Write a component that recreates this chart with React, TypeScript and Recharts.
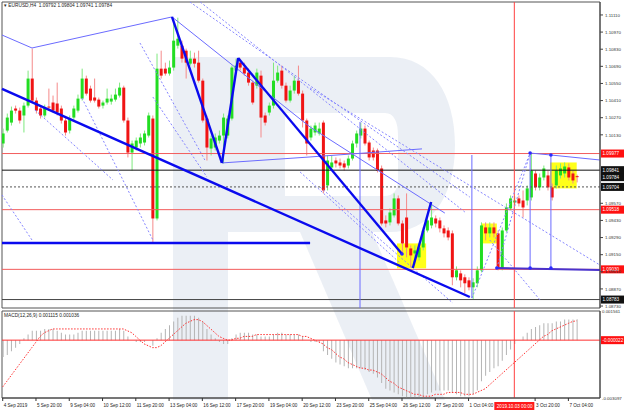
import React from "react";
import {
  Bar,
  ComposedChart,
  Line,
  ReferenceArea,
  ReferenceDot,
  ReferenceLine,
  XAxis,
  YAxis,
} from "recharts";

const FONT = "'Liberation Sans', Arial, sans-serif";
const X_DOMAIN: [number, number] = [-0.17, 143.6];
const PRICE_DOMAIN: [number, number] = [1.08714, 1.11216];
const MACD_DOMAIN: [number, number] = [-0.003097, 0.001561];

// EURUSD H4, 4 Sep 12:00 .. 7 Oct 12:00
const opens = [
  1.10059, 1.10165, 1.1023, 1.10345, 1.10328, 1.10288, 1.10369, 1.1059, 1.1041, 1.10345,
  1.10288, 1.10361, 1.10394, 1.10386, 1.10345, 1.10247, 1.10165, 1.10271, 1.10328, 1.10426,
  1.1059, 1.10508, 1.10435, 1.10418, 1.10369, 1.10394, 1.10402, 1.10418, 1.10451, 1.10516,
  1.10247, 1.09985, 1.10026, 1.10059, 1.10067, 1.10124, 1.10263, 1.09446, 1.10671, 1.10671,
  1.10631, 1.1068, 1.10859, 1.10859, 1.10818, 1.10712, 1.10753, 1.1072, 1.10573, 1.10263,
  1.10018, 1.10026, 1.10083, 1.10124, 1.10124, 1.10263, 1.10655, 1.1072, 1.1068, 1.10639,
  1.10557, 1.10532, 1.10614, 1.10288, 1.10312, 1.10369, 1.10573, 1.10655, 1.10532, 1.1041,
  1.10492, 1.10573, 1.10467, 1.10247, 1.10108, 1.10149, 1.10141, 1.1023, 1.09716, 1.09863,
  1.0992, 1.09904, 1.09896, 1.09879, 1.09936, 1.10059, 1.10124, 1.10181, 1.10067, 1.10002,
  1.10002, 1.09855, 1.0943, 1.09414, 1.09471, 1.0961, 1.09405, 1.09454, 1.09201, 1.0916,
  1.09128, 1.09209, 1.09348, 1.09389, 1.09446, 1.0943, 1.09365, 1.09348, 1.09324, 1.08965,
  1.08997, 1.08965, 1.0894, 1.08883, 1.08916, 1.09022, 1.09373, 1.09324, 1.09373, 1.09324,
  1.09038, 1.09348, 1.09528, 1.09577, 1.0961, 1.09593, 1.09593, 1.09618, 1.09814, 1.097,
  1.09781, 1.09798, 1.097, 1.09716, 1.09798, 1.09814, 1.09863, 1.09814, 1.09792,
];
const highs = [
  1.10181, 1.10304, 1.10361, 1.10369, 1.10353, 1.10394, 1.10655, 1.10835, 1.10435, 1.10369,
  1.10377, 1.10508, 1.10451, 1.10557, 1.10369, 1.10271, 1.10288, 1.10369, 1.10459, 1.10671,
  1.10614, 1.10532, 1.1059, 1.10435, 1.1041, 1.10508, 1.10459, 1.10508, 1.10557, 1.10532,
  1.10271, 1.10083, 1.10108, 1.10141, 1.10165, 1.10312, 1.10288, 1.10794, 1.10818, 1.1072,
  1.10737, 1.11063, 1.11088, 1.109, 1.10835, 1.10818, 1.10802, 1.10818, 1.1059, 1.10288,
  1.10124, 1.10141, 1.10165, 1.10304, 1.10288, 1.10696, 1.10753, 1.10753, 1.1072, 1.10671,
  1.10573, 1.10671, 1.10655, 1.10312, 1.10394, 1.1072, 1.10696, 1.10696, 1.10557, 1.10532,
  1.10614, 1.10696, 1.10492, 1.10263, 1.10206, 1.1023, 1.1023, 1.10247, 1.09961, 1.09961,
  1.09945, 1.09936, 1.0992, 1.09961, 1.10083, 1.10165, 1.1023, 1.10206, 1.10083, 1.10026,
  1.10018, 1.09879, 1.09471, 1.09528, 1.09651, 1.09634, 1.0943, 1.09651, 1.09226, 1.09226,
  1.09242, 1.09373, 1.09471, 1.09577, 1.09471, 1.09454, 1.09389, 1.09373, 1.09348, 1.09054,
  1.09022, 1.08989, 1.08965, 1.08957, 1.09054, 1.09414, 1.09414, 1.09414, 1.09414, 1.09348,
  1.09373, 1.09569, 1.09634, 1.09626, 1.09634, 1.09675, 1.09716, 1.09977, 1.09838, 1.09814,
  1.09879, 1.09838, 1.09732, 1.09879, 1.09896, 1.09904, 1.09896, 1.09838, 1.09804,
];
const lows = [
  1.10026, 1.10149, 1.10206, 1.10304, 1.10222, 1.10149, 1.10353, 1.10394, 1.10304, 1.10263,
  1.10271, 1.10328, 1.10312, 1.10288, 1.10222, 1.10124, 1.10141, 1.10247, 1.10312, 1.1041,
  1.10451, 1.10394, 1.10394, 1.10345, 1.10345, 1.10377, 1.10377, 1.10402, 1.10435, 1.1023,
  1.09945, 1.09838, 1.10002, 1.10026, 1.10043, 1.10108, 1.0925, 1.0943, 1.1059, 1.10614,
  1.10614, 1.10655, 1.10835, 1.1072, 1.1059, 1.10696, 1.1068, 1.10557, 1.1023, 1.0992,
  1.09961, 1.10002, 1.10059, 1.09896, 1.101, 1.10247, 1.10639, 1.10655, 1.10614, 1.10532,
  1.10377, 1.10508, 1.10108, 1.10206, 1.10288, 1.10345, 1.10557, 1.10508, 1.10394, 1.10394,
  1.10467, 1.10451, 1.1019, 1.09961, 1.10083, 1.10124, 1.10124, 1.09651, 1.09675, 1.09838,
  1.09863, 1.09855, 1.09838, 1.09855, 1.0992, 1.10026, 1.101, 1.10043, 1.0992, 1.0992,
  1.09822, 1.09389, 1.09373, 1.09389, 1.09454, 1.09389, 1.0916, 1.09128, 1.09046, 1.0912,
  1.09103, 1.09185, 1.09332, 1.09365, 1.09373, 1.09332, 1.09291, 1.09267, 1.089, 1.0894,
  1.08883, 1.08834, 1.08858, 1.08783, 1.08883, 1.09005, 1.09267, 1.09291, 1.09291, 1.09022,
  1.09022, 1.09332, 1.09512, 1.09553, 1.09544, 1.09454, 1.09553, 1.09593, 1.09675, 1.09675,
  1.09757, 1.09675, 1.09593, 1.09692, 1.09773, 1.09781, 1.09757, 1.09732, 1.09741,
];
const closes = [
  1.10141, 1.10271, 1.10328, 1.10328, 1.10247, 1.10369, 1.1059, 1.1041, 1.10328, 1.10288,
  1.10353, 1.10353, 1.10328, 1.10312, 1.10247, 1.10149, 1.10263, 1.10345, 1.10426, 1.1059,
  1.10467, 1.1041, 1.1041, 1.10361, 1.10394, 1.10426, 1.10426, 1.10459, 1.10516, 1.10247,
  1.09985, 1.10059, 1.10083, 1.10108, 1.10141, 1.10288, 1.09446, 1.10671, 1.10614, 1.10631,
  1.1068, 1.109, 1.10916, 1.10753, 1.1072, 1.10753, 1.10712, 1.10573, 1.10247, 1.10026,
  1.101, 1.10108, 1.10124, 1.10271, 1.10263, 1.1068, 1.10696, 1.1068, 1.10631, 1.10557,
  1.10394, 1.10639, 1.10271, 1.1023, 1.10369, 1.10573, 1.10639, 1.10532, 1.1041, 1.10492,
  1.10573, 1.10467, 1.10247, 1.10059, 1.10181, 1.10206, 1.10181, 1.09675, 1.0992, 1.09904,
  1.09896, 1.09879, 1.09863, 1.09936, 1.10059, 1.10141, 1.10181, 1.10059, 1.09945, 1.09945,
  1.09838, 1.09405, 1.09405, 1.09495, 1.0961, 1.09405, 1.09242, 1.09209, 1.09144, 1.09185,
  1.09209, 1.09348, 1.0943, 1.09454, 1.09405, 1.09365, 1.09324, 1.09291, 1.08965, 1.09022,
  1.0894, 1.08916, 1.08883, 1.08924, 1.09022, 1.09389, 1.09324, 1.09373, 1.09324, 1.09038,
  1.09348, 1.09536, 1.0961, 1.09593, 1.09569, 1.09536, 1.09692, 1.09838, 1.097, 1.09781,
  1.09855, 1.097, 1.09618, 1.09838, 1.09855, 1.09871, 1.09781, 1.09757, 1.09784,
];

// MACD(12,26,9): main line (histogram) and signal
const macdMain = [
  -0.0009, -0.0008, -0.0006, -0.0004, -0.0002, 0.0001, 0.0003, 0.0005, 0.0005, 0.0005, 0.0006,
  0.0006, 0.0006, 0.0005, 0.0004, 0.0003, 0.0003, 0.0003, 0.0004, 0.0005, 0.0005,
  0.0005, 0.0005, 0.0005, 0.0005, 0.0005, 0.0005, 0.0005, 0.0006, 0.0005, 0.0002,
  0, -0.0001, -0.0001, -0.0001, 0, -0.0003, 0.0001,
  0.0004, 0.0006, 0.0008, 0.001, 0.0012, 0.0013, 0.0013, 0.0013, 0.0013, 0.0012,
  0.001, 0.0006, 0.0003, 0.0001, -0.0001, -0.0002, -0.0002, 0.0001,
  0.0003, 0.0004, 0.0004, 0.0004, 0.0003, 0.0003, 0.0002, 0.0002, 0.0002, 0.0003, 0.0004,
  0.0004, 0.0003, 0.0003, 0.0003, 0.0003, 0.0002, 0, -0.0001, -0.0001, -0.0001,
  -0.0006, -0.0008, -0.001, -0.0012, -0.0013, -0.0014, -0.0015, -0.0015, -0.0015, -0.0015,
  -0.0016, -0.0017, -0.0018, -0.002,
  -0.0023, -0.0026, -0.0027, -0.0028, -0.0029, -0.003, -0.0031, -0.0031, -0.0031, -0.0031,
  -0.003, -0.0029, -0.0028, -0.0027, -0.0027, -0.0027, -0.0027, -0.0028, -0.0029, -0.003,
  -0.003, -0.003,
  -0.0029, -0.0027, -0.0022, -0.0019, -0.0017, -0.0015, -0.0014, -0.0011, -0.0008, -0.0005,
  -0.0002, 0, 0.0002, 0.0004, 0.0006, 0.0007, 0.0008, 0.0009, 0.0009, 0.0009, 0.001, 0.001,
  0.0011, 0.0011, 0.0011, 0.001115,
];
const macdSignal = [
  -0.0025, -0.0022, -0.0019, -0.0016, -0.0013, -0.001, -0.0007, -0.0004, -0.0001, 0.0002,
  0.0004, 0.0005, 0.0006,
  0.0006, 0.0006, 0.0006, 0.0006, 0.0006, 0.0006, 0.0006, 0.0006, 0.0006, 0.0006, 0.0006,
  0.0006, 0.0006, 0.0006, 0.0006, 0.0006,
  0.0006, 0.0005, 0.0004, 0.0002, 0, -0.0002, -0.0003, -0.0004, -0.0004, -0.0003, -0.0001,
  0.0001,
  0.0003, 0.0005, 0.0007, 0.0009, 0.001, 0.0011, 0.0011, 0.001, 0.0008, 0.0006, 0.0004,
  0.0002, 0.0001, 0, 0,
  0.0001, 0.0001, 0.0002, 0.0002, 0.0002, 0.0003, 0.0003, 0.0003, 0.0003, 0.0003, 0.0003,
  0.0003, 0.0003, 0.0003, 0.0003, 0.0003, 0.0002, 0.0002, 0.0001, 0, -0.0001,
  -0.0002, -0.0004, -0.0005, -0.0007, -0.0009, -0.001, -0.0012, -0.0013, -0.0014, -0.0015,
  -0.0015, -0.0016, -0.0016, -0.0017, -0.0018, -0.002, -0.0022, -0.0023, -0.0025, -0.0026,
  -0.0027, -0.0028, -0.0029, -0.0029, -0.003, -0.003, -0.003, -0.0029, -0.0029, -0.0029,
  -0.0028, -0.0028, -0.0028, -0.0028, -0.0029, -0.0029, -0.0029, -0.0028, -0.0027, -0.0026,
  -0.0024, -0.0022, -0.002, -0.0018, -0.0016, -0.0014,
  -0.0012, -0.001, -0.0008, -0.0006, -0.0004, -0.0002, 0, 0.0002, 0.0003, 0.0005, 0.0006,
  0.0007, 0.0008, 0.0009, 0.001, 0.001036,
];

const priceTicks = [
  1.1111, 1.1097, 1.1083, 1.1069, 1.1055, 1.1041, 1.1027, 1.1013, 1.0957, 1.0943, 1.0929,
  1.0915, 1.0901, 1.0887, 1.0873,
];
// the 2 Oct 12:00 label sits under the red date box and is not drawn
const timeTicks = [0, 8, 16, 24, 32, 40, 48, 56, 64, 72, 80, 88, 96, 104, 112, 128, 136];
const timeLabels = [
  "4 Sep 2019", "5 Sep 20:00", "9 Sep 04:00", "10 Sep 12:00", "11 Sep 20:00", "13 Sep 04:00",
  "16 Sep 12:00", "17 Sep 20:00", "19 Sep 04:00", "20 Sep 12:00", "23 Sep 20:00", "25 Sep 04:00",
  "26 Sep 12:00", "27 Sep 20:00", "1 Oct 04:00", "3 Oct 20:00", "7 Oct 04:00",
];

const RED_LINE = "#f25c5c";
const TAG_RED = "#ff1010";
const priceLevels = [
  { value: 1.09977, stroke: RED_LINE, tag: TAG_RED },
  { value: 1.09841, stroke: "#111", tag: "#111" },
  { value: 1.09784, stroke: "none", tag: "#111" },
  { value: 1.09704, stroke: "#555", tag: "#111", dash: "2 2" },
  { value: 1.09518, stroke: RED_LINE, tag: TAG_RED },
  { value: 1.0903, stroke: RED_LINE, tag: TAG_RED },
  { value: 1.08783, stroke: "#444", tag: "#111" },
];

type Pt = [number, number];
// drawn objects on the chart, in (bar index, price)
const thickLines: Pt[][] = [
  [[-0.17, 1.10505], [112.3, 1.08804]],
  [[-0.17, 1.09245], [73.9, 1.09245]],
  [[40.7, 1.11094], [52.7, 1.099]],
  [[52.7, 1.099], [56.6, 1.10758]],
  [[56.6, 1.10758], [96.0, 1.09155]],
  [[98.6, 1.09041], [103.0, 1.09581]],
];
const thinLines: Pt[][] = [
  [[-0.17, 1.10946], [7.04, 1.1084]],
  [[7.04, 1.1084], [40.7, 1.11094]],
  [[40.7, 1.11094], [73.9, 1.10194]],
  [[73.9, 1.10194], [106.3, 1.0949]],
  [[52.7, 1.099], [73.9, 1.09949]],
  [[73.9, 1.09949], [100.8, 1.10015]],
  [[126.8, 1.09981], [131.8, 1.09965]],
  [[131.8, 1.09965], [143.6, 1.09924]],
  [[85.9, 1.10235], [85.9, 1.08714]],
  [[112.8, 1.09965], [112.8, 1.08795]],
  [[126.8, 1.09981], [126.8, 1.09025]],
  [[131.8, 1.09965], [131.8, 1.09025]],
];
const dottedLines: Pt[][] = [
  [[-0.17, 1.09638], [7.04, 1.0927]],
  [[7.76, 1.10333], [26.5, 1.09761]],
  [[19.06, 1.10431], [36.1, 1.0927]],
  [[33.0, 1.10881], [48.6, 1.09924]],
  [[36.1, 1.10439], [49.1, 1.09785]],
  [[45.0, 1.11216], [112.3, 1.09621]],
  [[47.5, 1.11216], [111.1, 1.09499]],
  [[73.9, 1.10513], [143.6, 1.09065]],
  [[76.3, 1.09703], [108.2, 1.08755]],
  [[71.5, 1.09826], [95.5, 1.09082]],
  [[112.8, 1.08795], [126.8, 1.09981]],
  [[118.8, 1.09041], [126.8, 1.09981]],
  [[117.1, 1.0927], [129.2, 1.08779]],
];
const purpleLine: Pt[] = [[118.8, 1.09041], [143.6, 1.09025]];
const markers: Pt[] = [
  [96.0, 1.09155], [126.8, 1.09981], [131.8, 1.09965], [118.8, 1.09041], [126.8, 1.09041],
  [131.8, 1.09041],
];
const yellowBoxes: Pt[][] = [
  [[94.8, 1.09242], [101.8, 1.09038]],
  [[115.0, 1.09405], [118.8, 1.09242]],
  [[131.6, 1.09904], [138.0, 1.09692]],
];

const rows = opens.map((o, i) => ({
  i,
  o,
  h: highs[i],
  l: lows[i],
  c: closes[i],
  range: [lows[i], highs[i]],
  macd: macdMain[i],
  signal: macdSignal[i],
}));

const Candle = (props: any) => {
  const { x, y, width, height, payload } = props;
  if (x == null || y == null) return null;
  const top = Math.min(y, y + height);
  const bottom = Math.max(y, y + height);
  const span = payload.h - payload.l || 1e-9;
  const k = (bottom - top) / span;
  const yO = top + (payload.h - payload.o) * k;
  const yC = top + (payload.h - payload.c) * k;
  const up = payload.c >= payload.o;
  const cx = x + width / 2;
  return (
    <g>
      <line x1={cx} x2={cx} y1={top} y2={bottom} stroke={up ? "#7ee87e" : "#f58a8a"} strokeWidth={1} />
      <rect
        x={cx - 1.5}
        y={Math.min(yO, yC)}
        width={3}
        height={Math.max(1, Math.abs(yO - yC))}
        fill={up ? "#22dd22" : "#f01414"}
      />
    </g>
  );
};

const tag = (text: string, bg: string) => (props: any) => {
  const vb = props.viewBox;
  if (!vb) return null;
  const x = vb.x + vb.width;
  return (
    <g>
      <rect x={x + 1} y={vb.y - 4} width={23} height={8} fill={bg} />
      <text x={x + 2.5} y={vb.y + 1.8} fontSize={4.6} fill="#fff" fontFamily={FONT}>
        {text}
      </text>
    </g>
  );
};

const PriceTick = (props: any) => {
  const { x, y, payload } = props;
  return (
    <text x={x + 1} y={y + 1.7} fontSize={4.4} fill="#333" fontFamily={FONT}>
      {payload.value.toFixed(5)}
    </text>
  );
};

const MacdTick = (props: any) => {
  const { x, y, payload } = props;
  return (
    <text x={x + 1} y={y + 1.7} fontSize={4.4} fill="#333" fontFamily={FONT}>
      {payload.value.toFixed(6)}
    </text>
  );
};

const TimeTick = (props: any) => {
  const { x, y, payload } = props;
  const k = timeTicks.indexOf(payload.value);
  return (
    <g>
      <line x1={x} x2={x} y1={y} y2={y + 3} stroke="#333" />
      <text x={x + 1} y={y + 9} fontSize={4.6} fill="#222" fontFamily={FONT}>
        {timeLabels[k]}
      </text>
    </g>
  );
};

const dateTag = (props: any) => {
  const vb = props.viewBox;
  if (!vb) return null;
  const y = vb.y + vb.height;
  return (
    <g>
      <rect x={vb.x - 20} y={y + 4} width={40} height={8} fill="#ff1a1a" />
      <text x={vb.x - 17.5} y={y + 9.8} fontSize={4.6} fill="#fff" fontFamily={FONT}>
        2019.10.03 00:00
      </text>
    </g>
  );
};

const seg = (p: Pt[]) => p.map(([x, y]) => ({ x, y }));

function Watermark() {
  return (
    <svg width={624} height={416} style={{ position: "absolute", left: 0, top: 0 }}>
      <g fill="#e4e9f1" fillOpacity={0.75}>
        <rect x={173} y={57} width={55} height={343} />
        <path
          fillRule="evenodd"
          d="M228,57 H390 C432,57 455,95 455,145 C455,200 428,232 390,232 H228 Z M285,113 H385 C394,113 398,122 398,135 V180 C398,190 393,196 385,196 H285 Z"
        />
        <path d="M300,232 L372,232 L445,400 L372,400 Z" />
      </g>
    </svg>
  );
}

export default function App() {
  return (
    <div
      style={{
        position: "absolute",
        left: 0,
        top: 0,
        width: 624,
        height: 416,
        background: "#fff",
        overflow: "hidden",
        fontFamily: FONT,
      }}
    >
      <Watermark />
      <div style={{ position: "absolute", left: 0, top: 0 }}>
        <ComposedChart width={624} height={310} data={rows} margin={{ top: 2, right: 0, left: 2, bottom: 2 }}>
          <XAxis dataKey="i" type="number" domain={X_DOMAIN} allowDataOverflow hide />
          <YAxis
            orientation="right"
            type="number"
            domain={PRICE_DOMAIN}
            allowDataOverflow
            ticks={priceTicks}
            interval={0}
            width={24}
            tickSize={3}
            tickMargin={1}
            stroke="#444"
            tick={<PriceTick />}
          />
          <ReferenceArea
            x1={X_DOMAIN[0]}
            x2={X_DOMAIN[1]}
            y1={PRICE_DOMAIN[0]}
            y2={PRICE_DOMAIN[1]}
            fill="none"
            stroke="#555"
          />
          {yellowBoxes.map((b, k) => (
            <ReferenceArea
              key={`yb${k}`}
              x1={b[0][0]}
              x2={b[1][0]}
              y1={b[1][1]}
              y2={b[0][1]}
              fill="#ffff00"
              fillOpacity={0.9}
              stroke="none"
            />
          ))}
          {priceLevels.map((lv) => (
            <ReferenceLine
              key={`lv${lv.value}`}
              y={lv.value}
              stroke={lv.stroke}
              strokeDasharray={lv.dash}
              label={tag(lv.value.toFixed(5), lv.tag)}
            />
          ))}
          <ReferenceLine x={123} stroke="#ff4040" />
          {dottedLines.map((s, k) => (
            <ReferenceLine key={`dl${k}`} segment={seg(s)} stroke="#8585ff" strokeDasharray="2 2" />
          ))}
          {thinLines.map((s, k) => (
            <ReferenceLine key={`tl${k}`} segment={seg(s)} stroke="#6b6bff" />
          ))}
          <ReferenceLine segment={seg(purpleLine)} stroke="#4a32cc" strokeWidth={2} />
          {thickLines.map((s, k) => (
            <ReferenceLine key={`th${k}`} segment={seg(s)} stroke="#0a0aee" strokeWidth={2.4} />
          ))}
          {markers.map((m, k) => (
            <ReferenceDot key={`mk${k}`} x={m[0]} y={m[1]} r={1.8} fill="#2a2aff" stroke="none" />
          ))}
          <Bar dataKey="range" barSize={3} shape={<Candle />} isAnimationActive={false} />
        </ComposedChart>
      </div>
      <div style={{ position: "absolute", left: 0, top: 310 }}>
        <ComposedChart width={624} height={106} data={rows} margin={{ top: 1, right: 0, left: 2, bottom: 0 }}>
          <XAxis
            dataKey="i"
            type="number"
            domain={X_DOMAIN}
            allowDataOverflow
            ticks={timeTicks}
            interval={0}
            height={18}
            tickSize={0}
            tickMargin={0}
            stroke="#444"
            tick={<TimeTick />}
          />
          <YAxis
            orientation="right"
            type="number"
            domain={MACD_DOMAIN}
            allowDataOverflow
            ticks={[MACD_DOMAIN[1], MACD_DOMAIN[0]]}
            interval={0}
            width={24}
            tickSize={0}
            tickMargin={1}
            stroke="#444"
            tick={<MacdTick />}
          />
          <ReferenceArea
            x1={X_DOMAIN[0]}
            x2={X_DOMAIN[1]}
            y1={MACD_DOMAIN[0]}
            y2={MACD_DOMAIN[1]}
            fill="none"
            stroke="#555"
          />
          <Bar dataKey="macd" barSize={1} fill="#b4b4b4" isAnimationActive={false} />
          <Line
            dataKey="signal"
            stroke="#ff3030"
            strokeDasharray="1.5 1.5"
            dot={false}
            strokeWidth={1}
            isAnimationActive={false}
          />
          <ReferenceLine y={0} stroke="#ff3030" label={tag("-0.000022", TAG_RED)} />
          <ReferenceLine x={123} stroke="#ff4040" label={dateTag} />
        </ComposedChart>
      </div>
      <div style={{ position: "absolute", left: 4, top: 3, fontSize: 4.8, color: "#222", whiteSpace: "pre" }}>
        {"\u25BE EURUSD,H4  1.09792 1.09804 1.09741 1.09784"}
      </div>
      <div style={{ position: "absolute", left: 4, top: 313, fontSize: 4.8, color: "#222", whiteSpace: "pre" }}>
        {"MACD(12,26,9) 0.001115 0.001036"}
      </div>
    </div>
  );
}
